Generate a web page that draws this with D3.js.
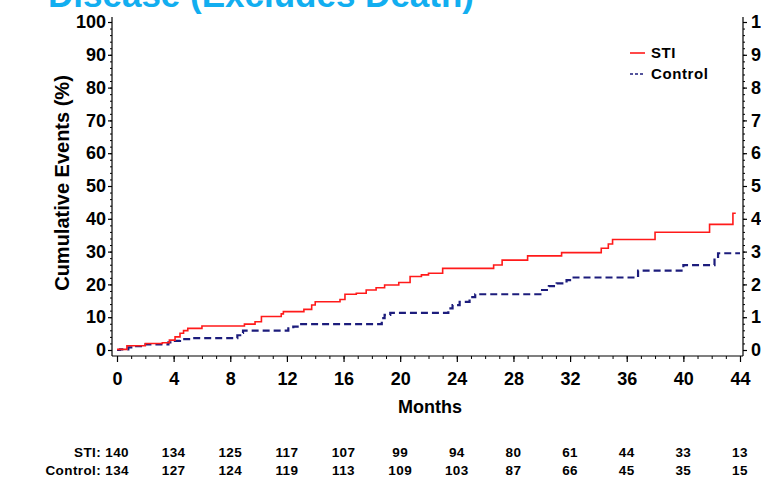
<!DOCTYPE html>
<html>
<head>
<meta charset="utf-8">
<script src="https://cdn.jsdelivr.net/npm/d3@7"></script>
<style>
  html, body { margin: 0; padding: 0; background: #fff; overflow: hidden; }
  svg { display: block; font-family: "Liberation Sans", Arial, sans-serif; }
</style>
</head>
<body>
<svg id="chart" width="761" height="479"></svg>
<script>
// Kaplan-Meier style cumulative event curves: [month, cumulative %]
const stiSteps = [
  [0, 0.2], [0.7, 1.3], [2.0, 2.0], [3.2, 2.2], [3.7, 3.0], [4.1, 4.0],
  [4.45, 5.1], [4.7, 5.9], [5.0, 6.6], [6.0, 7.3], [9.0, 7.9], [9.75, 8.6],
  [10.2, 10.2], [11.6, 11.0], [11.75, 11.7], [13.2, 12.4], [13.75, 13.7],
  [14.0, 14.7], [15.75, 15.4], [16.1, 17.0], [16.9, 17.3], [17.6, 18.3],
  [18.3, 19.0], [18.9, 19.8], [19.9, 20.6], [20.7, 22.4], [21.5, 22.9],
  [22.0, 23.4], [23.0, 24.9], [26.6, 25.9], [27.2, 27.4], [29.0, 28.7],
  [31.4, 29.7], [34.2, 31.0], [34.7, 32.3], [35.0, 33.7], [38.0, 35.9],
  [41.85, 38.3], [43.5, 41.7], [43.7, 41.7]
];
const controlSteps = [
  [0, 0], [0.2, 0.2], [0.8, 0.8], [1.27, 1.2], [1.86, 1.7], [3.63, 2.3],
  [4.0, 2.8], [4.45, 3.3], [5.3, 3.6], [8.5, 4.5], [8.7, 5.2], [8.9, 5.9],
  [12.1, 6.6], [12.45, 7.1], [12.9, 7.9], [18.7, 9.7], [18.9, 10.7],
  [19.3, 11.3], [23.4, 12.7], [23.7, 13.7], [24.2, 14.7], [24.9, 16.1],
  [25.3, 17.0], [29.9, 18.3], [30.5, 19.5], [31.05, 20.3], [31.75, 21.3],
  [32.1, 22.1], [36.8, 24.2], [40.0, 25.9], [42.2, 28.0], [42.45, 29.5],
  [44.0, 29.5]
];

// Number at risk, one value per x tick
const monthTicks = [0, 4, 8, 12, 16, 20, 24, 28, 32, 36, 40, 44];
const percentTicks = [0, 10, 20, 30, 40, 50, 60, 70, 80, 90, 100];
const stiAtRisk = [140, 134, 125, 117, 107, 99, 94, 80, 61, 44, 33, 13];
const controlAtRisk = [134, 127, 124, 119, 113, 109, 103, 87, 66, 45, 35, 15];

const svg = d3.select("#chart");
const x = d3.scaleLinear().domain([0, 44]).range([117, 740]);
const y = d3.scaleLinear().domain([0, 100]).range([350, 22]);

const frameLeft = 112, frameRight = 743, frameBottom = 356, frameTop = 17;

// Title (partially off the top edge)
svg.append("text")
  .attr("x", 48).attr("y", 7)
  .attr("font-size", 35).attr("font-weight", "bold")
  .attr("fill", "#12aef0")
  .text("Disease (Excludes Death)");

// Frame lines
const frame = svg.append("g").attr("stroke", "#000").attr("stroke-width", 1.2);
frame.append("line").attr("x1", frameLeft).attr("x2", frameLeft).attr("y1", frameTop).attr("y2", frameBottom);
frame.append("line").attr("x1", frameRight).attr("x2", frameRight).attr("y1", frameTop).attr("y2", frameBottom);
frame.append("line").attr("x1", frameLeft).attr("x2", frameRight).attr("y1", frameBottom).attr("y2", frameBottom);

// Minor ticks
const minorY = d3.range(0, 101, 2);
const minorX = d3.range(0, 44.01, 1);
svg.append("g").attr("transform", `translate(${frameLeft},0)`)
  .call(d3.axisLeft(y).tickValues(minorY).tickSize(2).tickFormat(""))
  .call(g => g.select(".domain").remove());
svg.append("g").attr("transform", `translate(${frameRight},0)`)
  .call(d3.axisRight(y).tickValues(minorY).tickSize(2).tickFormat(""))
  .call(g => g.select(".domain").remove());
svg.append("g").attr("transform", `translate(0,${frameBottom})`)
  .call(d3.axisBottom(x).tickValues(minorX).tickSize(3).tickFormat(""))
  .call(g => g.select(".domain").remove());

// Major axes
function styleAxis(g) {
  g.select(".domain").remove();
  g.selectAll(".tick line").attr("stroke", "#000").attr("stroke-width", 1.2);
  g.selectAll(".tick text").attr("fill", "#000")
    .attr("font-size", 18).attr("font-weight", "bold")
    .attr("font-family", "Liberation Sans, Arial, sans-serif");
}
svg.append("g").attr("transform", `translate(${frameLeft},0)`)
  .call(d3.axisLeft(y).tickValues(percentTicks).tickSize(4).tickPadding(2))
  .call(styleAxis);
svg.append("g").attr("transform", `translate(${frameRight},0)`)
  .call(d3.axisRight(y).tickValues(percentTicks).tickSize(4).tickPadding(4))
  .call(styleAxis);
svg.append("g").attr("transform", `translate(0,${frameBottom})`)
  .call(d3.axisBottom(x).tickValues(monthTicks).tickSize(6).tickPadding(10))
  .call(styleAxis);

// Axis titles
svg.append("text")
  .attr("x", 430).attr("y", 413)
  .attr("text-anchor", "middle")
  .attr("font-size", 18).attr("font-weight", "bold")
  .text("Months");
svg.append("text")
  .attr("transform", "translate(69,183) rotate(-90)")
  .attr("text-anchor", "middle")
  .attr("font-size", 20).attr("font-weight", "bold")
  .text("Cumulative Events (%)");

// Curves
const line = d3.line().x(d => x(d[0])).y(d => y(d[1])).curve(d3.curveStepAfter);
svg.append("path").datum(controlSteps)
  .attr("d", line).attr("fill", "none")
  .attr("stroke", "#1c1c7c").attr("stroke-width", 2.2)
  .attr("stroke-dasharray", "7,4");
svg.append("path").datum(stiSteps)
  .attr("d", line).attr("fill", "none")
  .attr("stroke", "#ff1a1a").attr("stroke-width", 1.6);

// Legend
const legend = svg.append("g");
const legendItems = [
  { label: "STI", color: "#ff1a1a", dash: null, w: 1.6, yy: 53 },
  { label: "Control", color: "#1c1c7c", dash: "3,2", w: 1.6, yy: 74 }
];
legendItems.forEach(item => {
  legend.append("line")
    .attr("x1", 630).attr("x2", 645).attr("y1", item.yy).attr("y2", item.yy)
    .attr("stroke", item.color).attr("stroke-width", item.w)
    .attr("stroke-dasharray", item.dash);
  legend.append("text")
    .attr("x", 651).attr("y", item.yy).attr("dy", "0.35em")
    .attr("font-size", 15).attr("font-weight", "bold")
    .attr("letter-spacing", 0.6)
    .text(item.label);
});

// Number at risk table
const riskRows = [
  { name: "STI:", values: stiAtRisk, yy: 452 },
  { name: "Control:", values: controlAtRisk, yy: 470 }
];
riskRows.forEach(row => {
  const g = svg.append("g").attr("font-size", 13.5).attr("font-weight", "bold");
  row.values.forEach((v, i) => {
    g.append("text")
      .attr("x", x(monthTicks[i]) + (i === 0 ? 12 : 0))
      .attr("y", row.yy).attr("dy", "0.35em")
      .attr("text-anchor", i === 0 ? "end" : "middle")
      .attr("letter-spacing", 0.4)
      .text(i === 0 ? `${row.name} ${v}` : v);
  });
});
</script>
</body>
</html>
